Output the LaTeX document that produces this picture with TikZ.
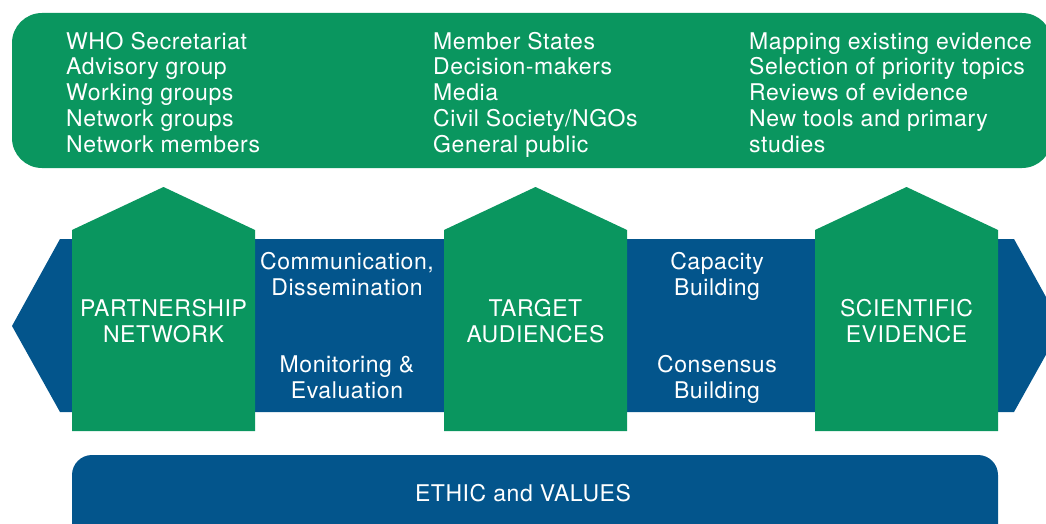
\documentclass[tikz,border=0pt]{standalone}
\usepackage{fontspec}
\setmainfont{TeX Gyre Heros}[LetterSpace=2.5]
\definecolor{wgreen}{RGB}{10,150,95}
\definecolor{wblue}{RGB}{3,85,140}
\begin{document}
\begin{tikzpicture}[x=1pt,y=-1pt,
  txt/.style={text=white,inner sep=0pt,font=\fontsize{23}{26}\selectfont},
  col/.style={txt,align=left,anchor=base west},
  lbl/.style={txt,align=center,anchor=base}]
\useasboundingbox (0,0) rectangle (1046,524);
% top green box
\fill[wgreen,rounded corners=30] (12,13) rectangle (1052,168);
% blue band arrow
\fill[wblue] (12,326) -- (60,239) -- (1014,239) -- (1062,326) -- (1014,412) -- (60,412) -- cycle;
% houses
\foreach \x in {72,444,815}{
  \fill[wgreen] (\x,431) -- (\x,230) -- (\x+91.5,187) -- (\x+183,230) -- (\x+183,431) -- cycle;
}
% bottom blue box
\fill[wblue,rounded corners=20] (72,455) rectangle (998,560);
% top texts (anchor at baseline of last line)
\node[col] (c1) at (66,153) {WHO Secretariat\\Advisory group\\Working groups\\Network groups\\Network members};
\node[col] (c2) at (433,153) {Member States\\Decision-makers\\Media\\Civil Society/NGOs\\General public};
\node[col] (c3) at (749,153) {Mapping existing evidence\\Selection of priority topics\\Reviews of evidence\\New tools and primary\\studies};
% house labels
\node[lbl] (pn) at (163.5,342) {PARTNERSHIP\\NETWORK};
\node[lbl] (ta) at (535.5,342) {TARGET\\AUDIENCES};
\node[lbl] (se) at (906.5,342) {SCIENTIFIC\\EVIDENCE};
% band labels
\node[lbl] (cd) at (347,295) {Communication,\\Dissemination};
\node[lbl] (me) at (347,398) {Monitoring \&\\Evaluation};
\node[lbl] (cb) at (717,295) {Capacity\\Building};
\node[lbl] (cs) at (717,398) {Consensus\\Building};
% bottom
\node[lbl] (ev) at (523,501) {ETHIC and VALUES};
\end{tikzpicture}
\end{document}
